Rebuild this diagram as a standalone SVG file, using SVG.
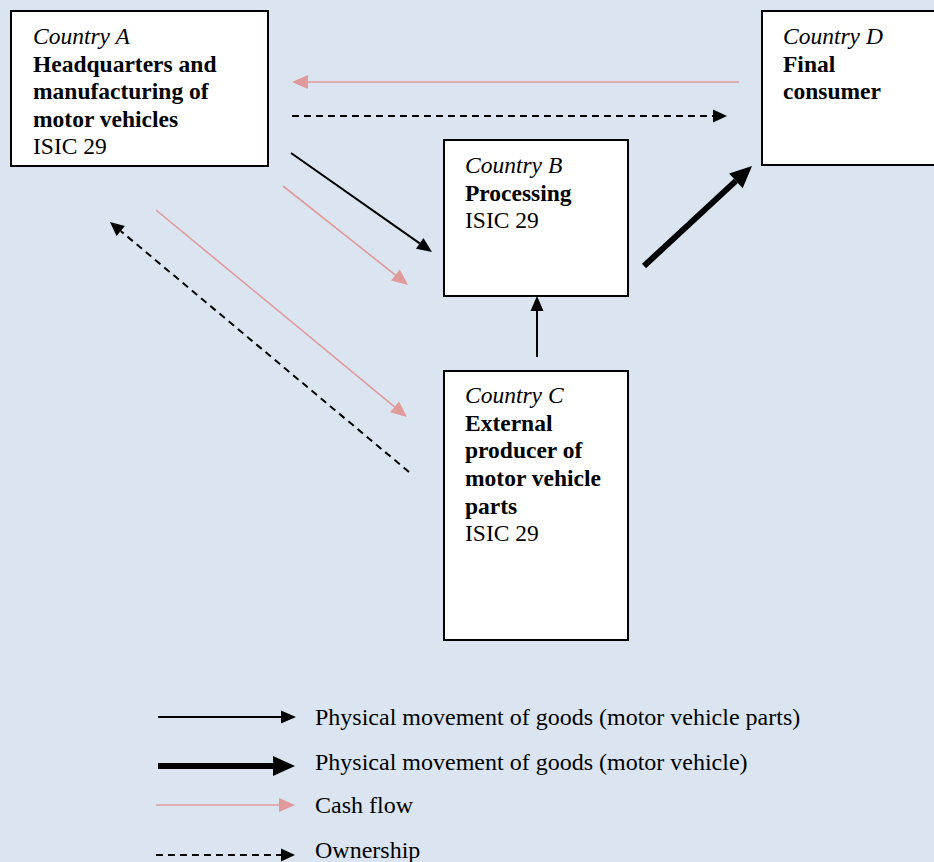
<svg xmlns="http://www.w3.org/2000/svg" width="934" height="862" viewBox="0 0 934 862">
<style>
.box{fill:#fff;stroke:#000;stroke-width:2}
text{font-family:"Liberation Serif","Times New Roman",serif;font-size:23.5px;fill:#000}
.i{font-style:italic}
.b{font-weight:bold}
.lg{font-size:24px}
.thin{stroke:#000;stroke-width:2;fill:none}
.thick{stroke:#000;stroke-width:6;fill:none}
.pink{stroke:#e09a9a;stroke-width:1.6;fill:none}
.dash{stroke:#000;stroke-width:2;stroke-dasharray:7 5;fill:none}
</style>
<defs>
<marker id="mThin" markerUnits="userSpaceOnUse" viewBox="0 -7 15 14" refX="0" refY="0" markerWidth="15" markerHeight="14" orient="auto" overflow="visible"><path d="M0,-6.5 L15,0 L0,6.5 Z" fill="#000"/></marker>
<marker id="mThick" markerUnits="userSpaceOnUse" viewBox="0 -11 22 22" refX="0" refY="0" markerWidth="22" markerHeight="22" orient="auto" overflow="visible"><path d="M0,-10 L22,0 L0,10 Z" fill="#000"/></marker>
<marker id="mPink" markerUnits="userSpaceOnUse" viewBox="0 -8 16 16" refX="0" refY="0" markerWidth="16" markerHeight="16" orient="auto" overflow="visible"><path d="M0,-7 L16,0 L0,7 Z" fill="#e09a9a"/></marker>
<marker id="mDash" markerUnits="userSpaceOnUse" viewBox="0 -7 14 14" refX="0" refY="0" markerWidth="14" markerHeight="14" orient="auto" overflow="visible"><path d="M0,-6.5 L14,0 L0,6.5 Z" fill="#000"/></marker>
</defs>
<rect x="0" y="0" width="934" height="862" fill="#dbe5f1"/>
<g id="nodeA">
<rect class="box" x="11" y="11" width="257" height="155"/>
<text x="33" y="44" class="i">Country A</text>
<text x="33" y="72" class="b">Headquarters and</text>
<text x="33" y="99" class="b">manufacturing of</text>
<text x="33" y="127" class="b">motor vehicles</text>
<text x="33" y="154">ISIC 29</text>
</g>
<g id="nodeB">
<rect class="box" x="444" y="140" width="184" height="156"/>
<text x="465" y="173" class="i">Country B</text>
<text x="465" y="201" class="b">Processing</text>
<text x="465" y="228">ISIC 29</text>
</g>
<g id="nodeC">
<rect class="box" x="444" y="371" width="184" height="269"/>
<text x="465" y="403" class="i">Country C</text>
<text x="465" y="431" class="b">External</text>
<text x="465" y="458" class="b">producer of</text>
<text x="465" y="486" class="b">motor vehicle</text>
<text x="465" y="514" class="b">parts</text>
<text x="465" y="541">ISIC 29</text>
</g>
<g id="nodeD">
<rect class="box" x="762" y="11" width="190" height="154"/>
<text x="783" y="44" class="i">Country D</text>
<text x="783" y="72" class="b">Final</text>
<text x="783" y="99" class="b">consumer</text>
</g>
<g id="connectors">
<line class="pink" x1="739" y1="82" x2="308" y2="82" marker-end="url(#mPink)"/>
<line class="dash" x1="292" y1="116" x2="713" y2="116" marker-end="url(#mDash)"/>
<line class="thin" x1="291" y1="153" x2="419.7" y2="243.4" marker-end="url(#mThin)"/>
<line class="pink" x1="283" y1="186" x2="395.5" y2="275.1" marker-end="url(#mPink)"/>
<line class="thick" x1="644" y1="266" x2="735.9" y2="180.9" marker-end="url(#mThick)"/>
<line class="thin" x1="537" y1="357" x2="537" y2="311" marker-end="url(#mThin)"/>
<line class="pink" x1="156" y1="210" x2="394.6" y2="406.8" marker-end="url(#mPink)"/>
<line class="dash" x1="409" y1="472" x2="120.7" y2="231" marker-end="url(#mDash)"/>
</g>
<g id="legend">
<line class="thin" x1="158" y1="717" x2="281" y2="717" marker-end="url(#mThin)"/>
<text x="315" y="725" class="lg">Physical movement of goods (motor vehicle parts)</text>
<line class="thick" x1="158" y1="766" x2="273" y2="766" marker-end="url(#mThick)"/>
<text x="315" y="770" class="lg">Physical movement of goods (motor vehicle)</text>
<line class="pink" x1="156" y1="805" x2="279" y2="805" marker-end="url(#mPink)"/>
<text x="315" y="813" class="lg">Cash flow</text>
<line class="dash" x1="156" y1="855" x2="281" y2="855" marker-end="url(#mDash)"/>
<text x="315" y="858" class="lg">Ownership</text>
</g>
</svg>
